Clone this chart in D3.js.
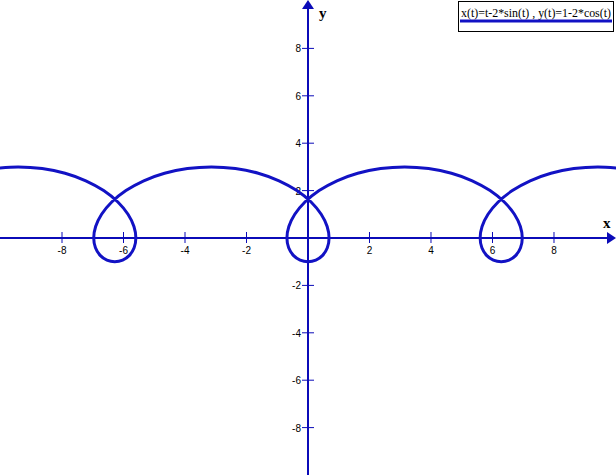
<!DOCTYPE html>
<html><head><meta charset="utf-8">
<script src="https://cdn.jsdelivr.net/npm/d3@7"></script>
<style>
html,body{margin:0;padding:0;background:#fff;}
svg{display:block;}
</style></head>
<body>
<svg id="c" width="616" height="475"></svg>
<script>
// Curve samples: x(t)=t-2*sin(t), y(t)=1-2*cos(t)
const curveX = [-10.2042,-9.4248,-8.6454,-7.9012,-7.2252,-6.6455,-6.1839,-5.8540,-5.6603,-5.5983,-5.6544,-5.8068,-6.0274,-6.2832,-6.5390,-6.7596,-6.9120,-6.9681,-6.9061,-6.7124,-6.3825,-5.9209,-5.3412,-4.6652,-3.9210,-3.1416,-2.3622,-1.6180,-0.9420,-0.3623,0.0993,0.4292,0.6229,0.6849,0.6288,0.4764,0.2558,0,-0.2558,-0.4764,-0.6288,-0.6849,-0.6229,-0.4292,-0.0993,0.3623,0.9420,1.6180,2.3622,3.1416,3.9210,4.6652,5.3412,5.9209,6.3825,6.7124,6.9061,6.9681,6.9120,6.7596,6.5390,6.2832,6.0274,5.8068,5.6544,5.5983,5.6603,5.8540,6.1839,6.6455,7.2252,7.9012,8.6454,9.4248,10.2042];
const curveY = [2.9319,3,2.9319,2.7321,2.4142,2,1.5176,1,0.4824,0,-0.4142,-0.7321,-0.9319,-1,-0.9319,-0.7321,-0.4142,0,0.4824,1,1.5176,2,2.4142,2.7321,2.9319,3,2.9319,2.7321,2.4142,2,1.5176,1,0.4824,0,-0.4142,-0.7321,-0.9319,-1,-0.9319,-0.7321,-0.4142,0,0.4824,1,1.5176,2,2.4142,2.7321,2.9319,3,2.9319,2.7321,2.4142,2,1.5176,1,0.4824,0,-0.4142,-0.7321,-0.9319,-1,-0.9319,-0.7321,-0.4142,0,0.4824,1,1.5176,2,2.4142,2.7321,2.9319,3,2.9319];
const xTicks = [-8,-6,-4,-2,2,4,6,8];
const yTicks = [-8,-6,-4,-2,2,4,6,8];
const legendLabel = "x(t)=t-2*sin(t) , y(t)=1-2*cos(t)";

const W = 616, H = 475;
const axisColor = "#0b0bb8";
const curveColor = "#1212c4";
const svg = d3.select("#c");

const x = d3.scaleLinear().domain([-10.0163, 10.0163]).range([0, W]);
const y = d3.scaleLinear().domain([-10.0422, 10.0422]).range([476, 0]);
const x0 = x(0), y0 = y(0);

// clip
svg.append("clipPath").attr("id","clip").append("rect").attr("x",0).attr("y",0).attr("width",W).attr("height",H);

// axes lines
svg.append("line").attr("x1",0).attr("x2",W-6).attr("y1",y0).attr("y2",y0)
  .attr("stroke",axisColor).attr("stroke-width",2);
svg.append("line").attr("x1",x0).attr("x2",x0).attr("y1",H).attr("y2",6)
  .attr("stroke",axisColor).attr("stroke-width",2);
// arrows
svg.append("path").attr("d",`M${W},${y0} L${W-9},${y0-6} L${W-9},${y0+6} Z`).attr("fill",axisColor);
svg.append("path").attr("d",`M${x0},0 L${x0-6},9 L${x0+6},9 Z`).attr("fill",axisColor);

// ticks
const xt = svg.append("g").selectAll("g").data(xTicks).join("g")
  .attr("transform", d => `translate(${x(d)},${y0})`);
xt.append("line").attr("y1",-6).attr("y2",5).attr("stroke",axisColor).attr("stroke-width",1);
xt.append("text").attr("y",16).attr("text-anchor","middle")
  .attr("font-family","Liberation Sans, Arial, sans-serif").attr("font-size",10).attr("fill","#000")
  .text(d => d);

const yt = svg.append("g").selectAll("g").data(yTicks).join("g")
  .attr("transform", d => `translate(${x0},${y(d)})`);
yt.append("line").attr("x1",-6).attr("x2",6).attr("stroke",axisColor).attr("stroke-width",1);
yt.append("text").attr("x",-7).attr("y",4).attr("text-anchor","end")
  .attr("font-family","Liberation Sans, Arial, sans-serif").attr("font-size",10).attr("fill","#000")
  .text(d => d);

// axis names
svg.append("text").attr("x",319).attr("y",18).attr("font-family","Liberation Serif, Times New Roman, serif")
  .attr("font-weight","bold").attr("font-size",15).text("y");
svg.append("text").attr("x",603).attr("y",228).attr("font-family","Liberation Serif, Times New Roman, serif")
  .attr("font-weight","bold").attr("font-size",15).text("x");

// curve
const pts = curveX.map((v,i) => [v, curveY[i]]);
const line = d3.line().x(d => x(d[0])).y(d => y(d[1])).curve(d3.curveCatmullRom.alpha(0.5));
svg.append("path").attr("d", line(pts)).attr("clip-path","url(#clip)")
  .attr("fill","none").attr("stroke",curveColor).attr("stroke-width",3).attr("stroke-linejoin","round");

// legend
const lg = svg.append("g");
lg.append("rect").attr("x",458.5).attr("y",1.5).attr("width",155).attr("height",30)
  .attr("fill","#fff").attr("stroke","#000").attr("stroke-width",1);
lg.append("text").attr("x",461).attr("y",17).attr("font-family","Liberation Serif, Times New Roman, serif")
  .attr("font-size",12).attr("fill","#000").attr("textLength",150).attr("lengthAdjust","spacingAndGlyphs")
  .text(legendLabel);
lg.append("line").attr("x1",460).attr("x2",612).attr("y1",21).attr("y2",21)
  .attr("stroke",curveColor).attr("stroke-width",3);
</script>
</body></html>
